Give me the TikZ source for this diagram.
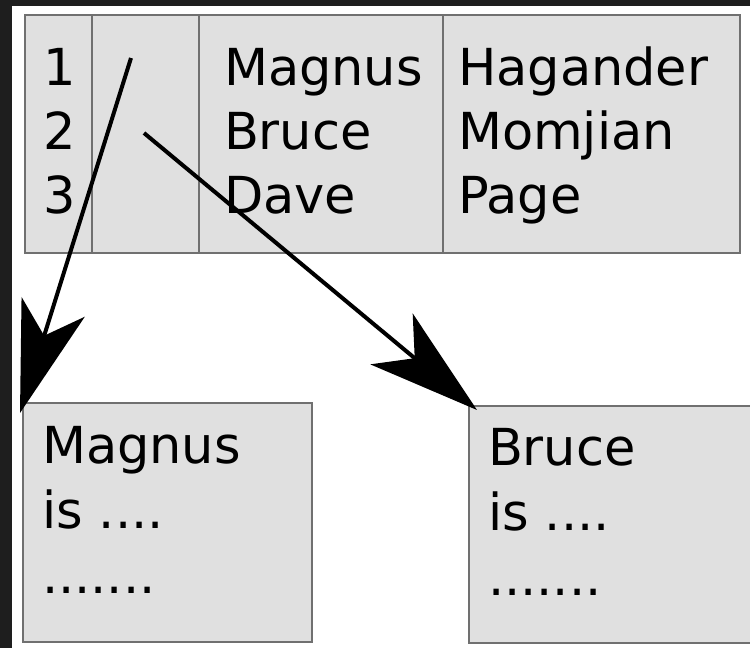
\documentclass[tikz,border=0pt]{standalone}
\usepackage{fontspec}
\setmainfont{DejaVu Sans}
\usetikzlibrary{arrows.meta}
\definecolor{cellfill}{HTML}{E0E0E0}
\definecolor{cellline}{HTML}{707070}
\definecolor{darkedge}{HTML}{1E1E1E}
\begin{document}
\begin{tikzpicture}[x=1pt,y=-1pt,
  cell/.style={draw=cellline, fill=cellfill, line width=2pt, inner sep=0pt, outer sep=0pt, anchor=north west},
  txt/.style={anchor=base west, inner sep=0pt, outer sep=0pt, font=\fontsize{51}{64}\selectfont},
  ptr/.style={line width=4pt, -{Stealth[length=111pt,width=66pt,inset=30pt]}}]
\useasboundingbox (0,0) rectangle (750,648);
\fill[white] (0,0) rectangle (750,648);
\fill[darkedge] (0,0) rectangle (750,6);
\fill[darkedge] (0,0) rectangle (12,648);
% table cells
\node[cell, minimum width=67pt, minimum height=238pt] (c1) at (25,15) {};
\node[cell, minimum width=107pt, minimum height=238pt] (c2) at (92,15) {};
\node[cell, minimum width=244pt, minimum height=238pt] (c3) at (199,15) {};
\node[cell, minimum width=297pt, minimum height=238pt] (c4) at (443,15) {};
% table texts
\node[txt] (n1) at (43,85) {1};
\node[txt] (n2) at (43,149) {2};
\node[txt] (n3) at (43,213) {3};
\node[txt] (f1) at (224,85) {Magnus};
\node[txt] (f2) at (224,149) {Bruce};
\node[txt] (f3) at (224,213) {Dave};
\node[txt] (l1) at (458,85) {Hagander};
\node[txt] (l2) at (458,149) {Momjian};
\node[txt] (l3) at (458,213) {Page};
% detail boxes
\node[cell, minimum width=289pt, minimum height=239pt] (box1) at (23,403) {};
\node[cell, minimum width=283pt, minimum height=237pt] (box2) at (469,406) {};
\node[txt] (b1a) at (42,463) {Magnus};
\node[txt] (b1b) at (42,528) {is ....};
\node[txt] (b1c) at (42,593) {.......};
\node[txt] (b2a) at (488,465) {Bruce};
\node[txt] (b2b) at (488,530) {is ....};
\node[txt] (b2c) at (488,595) {.......};
% pointers
\coordinate (p1) at (131,58);
\coordinate (p2) at (144,133);
\draw[ptr] (p1) -- ([xshift=-3pt,yshift=-10pt]box1.north west);
\draw[ptr] (p2) -- ([xshift=8pt,yshift=-4pt]box2.north west);
\end{tikzpicture}
\end{document}
